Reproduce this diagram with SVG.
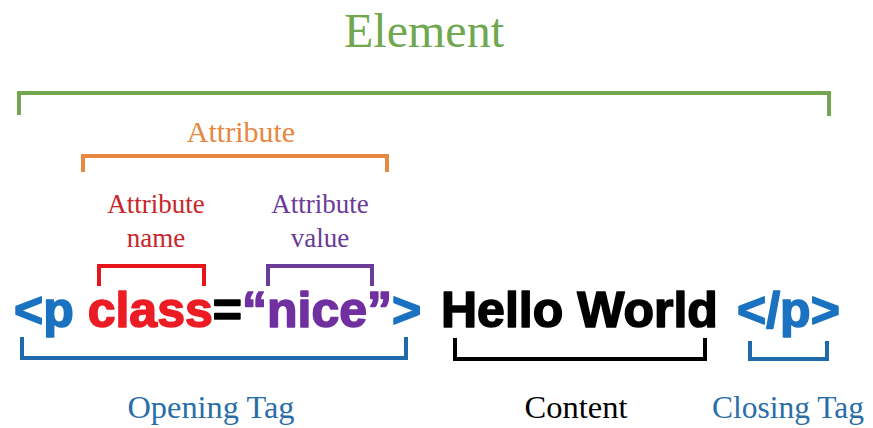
<svg xmlns="http://www.w3.org/2000/svg" width="873" height="428" viewBox="0 0 873 428">
<style>
.lbl{font-family:"Liberation Serif","Times New Roman",serif;text-anchor:middle}
.code{font-family:"Liberation Sans",Arial,sans-serif;font-weight:bold;font-size:50px;stroke-width:1.6;stroke-linejoin:round}
.br{fill:none;stroke-width:4;stroke-linecap:butt;stroke-linejoin:miter}
</style>
<rect width="873" height="428" fill="#ffffff"/>
<g id="element">
<text class="lbl" x="424" y="47" font-size="48" fill="#70a74f">Element</text>
</g>
<g id="attribute">
<text class="lbl" x="241" y="142" font-size="30" fill="#e8873f">Attribute</text>
</g>
<g id="attribute-name">
<text class="lbl" x="156" y="213" font-size="27" fill="#c8262c">Attribute</text>
<text class="lbl" x="156" y="247" font-size="27" fill="#c8262c">name</text>
</g>
<g id="attribute-value">
<text class="lbl" x="320" y="213" font-size="27" fill="#6a3b98">Attribute</text>
<text class="lbl" x="320" y="247" font-size="27" fill="#6a3b98">value</text>
</g>
<g id="opening-tag">
<text class="code" x="14" y="327"><tspan fill="#1a72c0" stroke="#1a72c0">&lt;p </tspan><tspan fill="#ec1c24" stroke="#ec1c24">class</tspan><tspan fill="#000000" stroke="#000000">=</tspan><tspan fill="#7030a0" stroke="#7030a0">“nice”</tspan><tspan fill="#1a72c0" stroke="#1a72c0">&gt;</tspan></text>
</g>
<g id="content">
<text class="code" x="441" y="327" fill="#000000" stroke="#000000">Hello World</text>
</g>
<g id="closing-tag">
<text class="code" x="737" y="327" fill="#1a72c0" stroke="#1a72c0">&lt;/p&gt;</text>
</g>
<g id="labels">
<text class="lbl" x="211" y="418" font-size="31" fill="#2a6ea8" textLength="167" lengthAdjust="spacingAndGlyphs">Opening Tag</text>
<text class="lbl" x="576" y="418" font-size="31" fill="#000000" textLength="103" lengthAdjust="spacingAndGlyphs">Content</text>
<text class="lbl" x="788" y="418" font-size="31" fill="#2a6ea8" textLength="152" lengthAdjust="spacingAndGlyphs">Closing Tag</text>
</g>
<g id="connectors">
<path class="br" stroke="#70a74f" d="M19,115 V93 H829 V116"/>
<path class="br" stroke="#e8873f" d="M83,172 V156 H387 V172"/>
<path class="br" stroke="#e8141c" d="M99,286 V266 H204 V286"/>
<path class="br" stroke="#6a3b98" d="M268,286 V266 H372 V286"/>
<path class="br" stroke="#1f6aaa" d="M22,337 V358 H406 V337"/>
<path class="br" stroke="#000000" d="M455,338 V359 H705 V338"/>
<path class="br" stroke="#1f6aaa" d="M750,341 V359 H827 V341"/>
</g>
</svg>
